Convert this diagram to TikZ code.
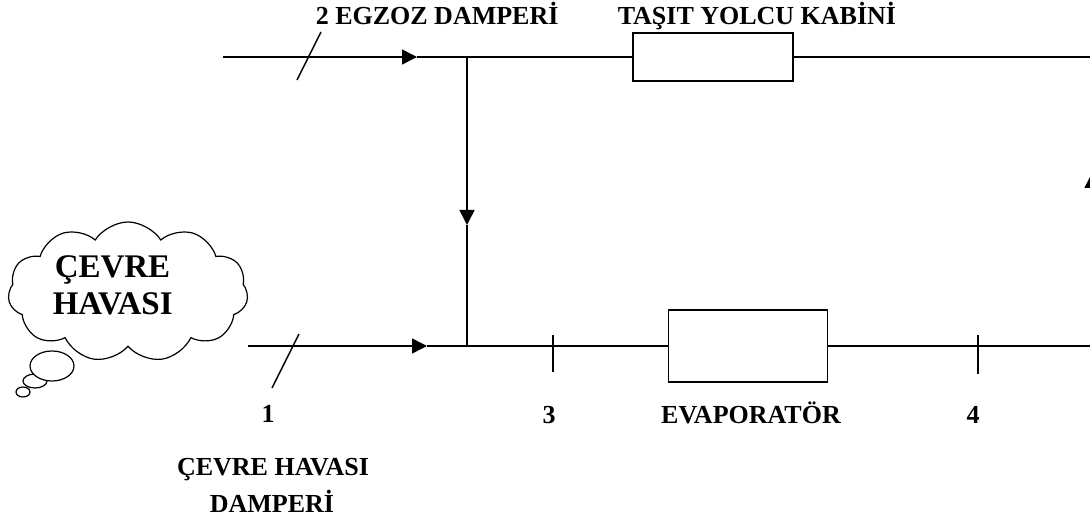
\documentclass[tikz,border=0pt]{standalone}
\usepackage{fontspec}
\setmainfont{Liberation Serif}
\usetikzlibrary{arrows.meta,shapes.symbols}

\begin{document}
\begin{tikzpicture}[x=1pt, y=-1pt, line width=1.5pt,
  every node/.style={font=\bfseries\fontsize{26}{31}\selectfont, inner sep=0pt},
  ok/.style={-{Triangle[length=15pt,width=15pt]}},
  kutu/.style={draw, fill=white, line width=1.5pt}]
  \useasboundingbox (0,0) rectangle (1090,521);

  % Hat noktalari
  \coordinate (ust0) at (223,57);   \coordinate (ust1) at (1092,57);
  \coordinate (alt0) at (248,346);  \coordinate (alt1) at (1092,346);
  \coordinate (kavsakU) at (467,57); \coordinate (kavsakA) at (467,346);
  \coordinate (ok1) at (417,57);  \coordinate (ok2) at (427,346);
  \coordinate (ok3) at (467,225); \coordinate (ok4) at (1092,173);
  \coordinate (nokta3) at (553,346); \coordinate (nokta4) at (978,346);

  % Kutular
  \node[kutu, minimum width=160pt, minimum height=48pt] (kabin) at (713,57) {};
  \node[kutu, minimum width=159pt, minimum height=72pt] (evap) at (748,346) {};

  % Ust hat (egzoz)
  \draw[ok] (ust0) -- (ok1);
  \draw (ok1) -- (kabin.west);
  \draw (kabin.east) -- (ust1);
  \draw[ok] (kavsakU) -- (ok3);
  \draw (ok3) -- (kavsakA);

  % Alt hat (cevre havasi)
  \draw[ok] (alt0) -- (ok2);
  \draw (ok2) -- (evap.west);
  \draw (evap.east) -- (alt1);
  \draw[ok] (alt1) -- (ok4);
  \draw (ok4) -- (ust1);

  % Damperler ve olcum noktalari
  \draw (297,80) -- (321,32);
  \draw (272,388) -- (299,334);
  \draw (nokta3) ++(0,-11) -- ++(0,37);
  \draw (nokta4) ++(0,-11) -- ++(0,39);

  % Etiketler
  \node[anchor=base west] (egzoz) at (315,25) {2 EGZOZ DAMPER\.I};
  \node[anchor=base west] (kabinyazi) at (617,25) {TA\c{S}IT YOLCU KAB\.IN\.I};
  \node[anchor=base] (n1) at (268,422) {1};
  \node[anchor=base] (n3) at (549,423) {3};
  \node[anchor=base] (evapyazi) at (751,423) {EVAPORAT\"OR};
  \node[anchor=base] (n4) at (973,423) {4};
  \node[anchor=base] (damper1) at (273,475) {\c{C}EVRE HAVASI};
  \node[anchor=base] (damper2) at (272,512) {DAMPER\.I};

  % Bulut
  \draw[line width=1.2pt, fill=white] (23,392) ellipse [x radius=7, y radius=5];
  \draw[line width=1.2pt, fill=white] (35,381) ellipse [x radius=12, y radius=7];
  \draw[line width=1.2pt, fill=white] (52,366) ellipse [x radius=22, y radius=15];
  \node[cloud, draw, fill=white, line width=1.2pt, cloud puffs=11, cloud puff arc=115,
    aspect=1.7, minimum width=240pt, minimum height=140pt] (bulut) at (128,292) {};
  \node[anchor=base west, font=\bfseries\fontsize{33}{39}\selectfont]
    (havayazi) at (54,278) {\c{C}EVRE};
  \node[anchor=base west, font=\bfseries\fontsize{33}{39}\selectfont]
    (havayazi2) at (52,315) {HAVASI};
\end{tikzpicture}
\end{document}
